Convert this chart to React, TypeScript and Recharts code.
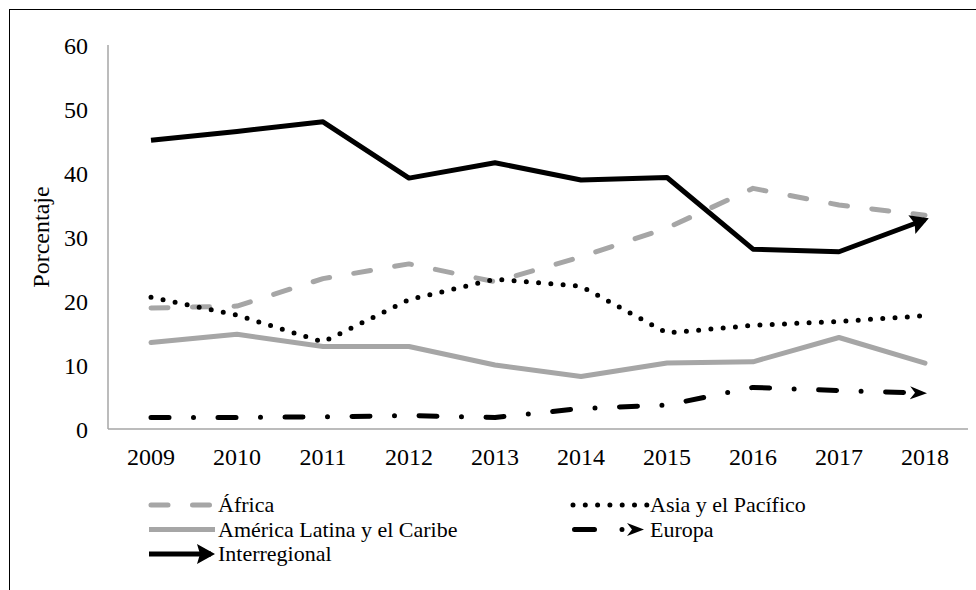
import { Line, LineChart, XAxis, YAxis } from "recharts";

const years = ["2009", "2010", "2011", "2012", "2013", "2014", "2015", "2016", "2017", "2018"];
const africa = [18.9, 19.2, 23.5, 25.8, 23.0, 26.9, 31.4, 37.6, 35.0, 33.4];
const asia = [20.6, 17.8, 13.6, 20.2, 23.4, 22.3, 15.0, 16.2, 16.8, 17.7];
const latam = [13.5, 14.8, 12.9, 12.9, 10.0, 8.2, 10.3, 10.5, 14.3, 10.3];
const europa = [1.8, 1.8, 1.9, 2.1, 1.8, 3.2, 3.75, 6.5, 6.0, 5.6];
const interregional = [45.1, 46.5, 48.0, 39.2, 41.6, 38.9, 39.3, 28.1, 27.7, 32.7];
const yTicks = [0, 10, 20, 30, 40, 50, 60];

const GRAY = "#a6a6a6";
const FONT = "Liberation Serif, Times New Roman, Tinos, DejaVu Serif, serif";

type Series = {
  key: string;
  name: string;
  values: number[];
  stroke: string;
  dash?: string;
  cap: "round" | "butt";
  marker?: string;
};

const series: Series[] = [
  { key: "africa", name: "África", values: africa, stroke: GRAY, dash: "17 24.5", cap: "round" },
  { key: "asia", name: "Asia y el Pacífico", values: asia, stroke: "#000", dash: "0 12.3", cap: "round" },
  { key: "latam", name: "América Latina y el Caribe", values: latam, stroke: GRAY, cap: "round" },
  { key: "europa", name: "Europa", values: europa, stroke: "#000", dash: "18 24.5 0 24.5", cap: "round", marker: "arrowEur" },
  { key: "interregional", name: "Interregional", values: interregional, stroke: "#000", cap: "butt", marker: "arrowInter" },
];

const data = years.map((year, i) => {
  const row: Record<string, string | number> = { year };
  series.forEach((s) => {
    row[s.key] = s.values[i];
  });
  return row;
});

function Markers({ prefix }: { prefix: string }) {
  return (
    <defs>
      <marker
        id={`${prefix}arrowInter`}
        markerUnits="userSpaceOnUse"
        viewBox="0 0 20 20"
        markerWidth={20}
        markerHeight={20}
        refX={14}
        refY={10}
        orient="auto"
      >
        <path d="M0,0 L18,10 L0,20 L3,10 Z" fill="#000" />
      </marker>
      <marker
        id={`${prefix}arrowEur`}
        markerUnits="userSpaceOnUse"
        viewBox="0 0 18 14"
        markerWidth={18}
        markerHeight={14}
        refX={15}
        refY={7}
        orient="auto"
      >
        <path d="M0,0.5 L17,7 L0,13.5 L5,7 Z" fill="#000" />
      </marker>
    </defs>
  );
}

// legend laid out like the Excel one: two columns, row-major
const legendPos = [
  { x: 149, y: 23, tx: 218 },
  { x: 572, y: 23, tx: 650 },
  { x: 149, y: 47.5, tx: 218 },
  { x: 572, y: 47.5, tx: 650 },
  { x: 149, y: 72, tx: 218 },
];

function LegendSwatch({ s, x, y }: { s: Series; x: number; y: number }) {
  if (s.key === "africa")
    return <line x1={x + 2} x2={x + 64} y1={y} y2={y} stroke={s.stroke} strokeWidth={5} strokeDasharray={s.dash} strokeLinecap="round" />;
  if (s.key === "asia")
    return <line x1={x + 1} x2={x + 75} y1={y} y2={y} stroke={s.stroke} strokeWidth={5} strokeDasharray={s.dash} strokeLinecap="round" />;
  if (s.key === "latam")
    return <line x1={x} x2={x + 66} y1={y} y2={y} stroke={s.stroke} strokeWidth={5} />;
  if (s.key === "europa")
    return (
      <path
        d={`M${x + 2.5},${y} L${x + 70},${y}`}
        stroke={s.stroke}
        strokeWidth={5}
        strokeDasharray="20 27.5 0 100"
        strokeLinecap="round"
        fill="none"
        markerEnd="url(#lg-arrowEur)"
      />
    );
  return (
    <path
      d={`M${x},${y} L${x + 62},${y}`}
      stroke={s.stroke}
      strokeWidth={5}
      fill="none"
      markerEnd="url(#lg-arrowInter)"
    />
  );
}

export default function App() {
  return (
    <div
      style={{
        position: "absolute",
        left: 0,
        top: 0,
        width: 976,
        height: 590,
        background: "#fff",
        fontFamily: FONT,
        overflow: "hidden",
      }}
    >
      <div
        style={{
          position: "absolute",
          left: 9,
          top: 9,
          width: 990,
          height: 600,
          borderLeft: "1.5px solid #000",
          borderTop: "1.5px solid #000",
        }}
      />
      <div style={{ position: "absolute", left: 0, top: 0 }}>
        <LineChart
          width={976}
          height={590}
          data={data}
          margin={{ top: 45, right: 8, left: 0, bottom: 121 }}
          style={{ fontFamily: FONT }}
        >
          <Markers prefix="" />
          <XAxis
            dataKey="year"
            interval={0}
            padding={{ left: 43, right: 43 }}
            axisLine={{ stroke: GRAY, strokeWidth: 1.5 }}
            tickLine={false}
            tickSize={0}
            tickMargin={19}
            height={40}
            tick={{ fill: "#000", fontSize: 24, style: { fontFamily: FONT } }}
          />
          <YAxis
            domain={[0, 60]}
            ticks={yTicks}
            width={108}
            axisLine={{ stroke: GRAY, strokeWidth: 1.5 }}
            tickLine={false}
            tickSize={0}
            tickMargin={20}
            tick={{ fill: "#000", fontSize: 24, style: { fontFamily: FONT } }}
            label={{
              value: "Porcentaje",
              angle: -90,
              position: "insideLeft",
              offset: 40,
              style: { textAnchor: "middle", fontSize: 24, fill: "#000", fontFamily: FONT },
            }}
          />
          {series.map((s) => (
            <Line
              key={s.key}
              type="linear"
              dataKey={s.key}
              name={s.name}
              stroke={s.stroke}
              strokeWidth={5}
              strokeDasharray={s.dash}
              strokeLinecap={s.cap}
              strokeLinejoin="round"
              markerEnd={s.marker ? `url(#${s.marker})` : undefined}
              dot={false}
              activeDot={false}
              isAnimationActive={false}
            />
          ))}
        </LineChart>
      </div>
      <svg
        width={976}
        height={100}
        style={{ position: "absolute", left: 0, top: 482, pointerEvents: "none", fontFamily: FONT }}
      >
        <Markers prefix="lg-" />
        {series.map((s, i) => {
          const p = legendPos[i];
          return (
            <g key={s.key}>
              <LegendSwatch s={s} x={p.x} y={p.y} />
              <text x={p.tx} y={p.y} dy="0.33em" fontSize={22} fill="#000" style={{ fontFamily: FONT }}>
                {s.name}
              </text>
            </g>
          );
        })}
      </svg>
    </div>
  );
}
